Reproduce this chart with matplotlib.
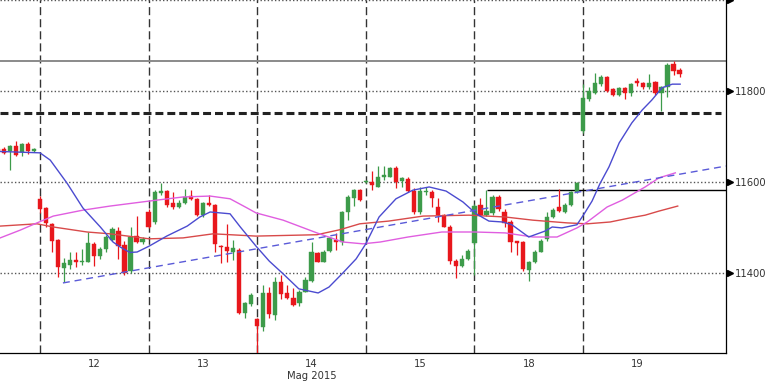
import matplotlib
matplotlib.use('Agg')
import matplotlib.pyplot as plt
import matplotlib.transforms as mtransforms

# hourly candles, index 0 = first bar of 12 May
idx = list(range(-7, 107))
opens = [11672, 11672, 11667, 11680, 11665, 11683, 11667,
         11562, 11542, 11508, 11472, 11410, 11418, 11428, 11424, 11425, 11464, 11438, 11452, 11473, 11493, 11461, 11404, 11482, 11467,
         11535, 11512, 11575, 11581, 11554, 11546, 11554, 11569, 11562, 11527, 11553, 11549, 11460, 11457, 11447, 11450, 11311, 11332,
         11299, 11282, 11355, 11308, 11381, 11355, 11346, 11333, 11359, 11382, 11443, 11425, 11448, 11472, 11467, 11533, 11564, 11582,
         11600, 11601, 11590, 11612, 11612, 11630, 11602, 11607, 11580, 11533, 11578, 11579, 11546, 11527, 11500, 11426, 11416, 11431,
         11465, 11549, 11527, 11531, 11567, 11535, 11513, 11470, 11467, 11407, 11424, 11447, 11475, 11523, 11545, 11535, 11549, 11578,
         11713, 11782, 11796, 11815, 11831, 11804, 11791, 11806, 11796, 11823, 11817, 11808, 11820, 11795, 11808, 11859, 11846]
highs = [11675, 11676, 11681, 11691, 11685, 11687, 11674,
         11569, 11545, 11510, 11474, 11433, 11446, 11447, 11452, 11491, 11467, 11458, 11484, 11500, 11500, 11470, 11500, 11526, 11478,
         11540, 11582, 11597, 11583, 11579, 11560, 11584, 11582, 11565, 11557, 11571, 11552, 11462, 11508, 11472, 11455, 11336, 11355,
         11300, 11374, 11368, 11392, 11396, 11374, 11366, 11362, 11390, 11469, 11447, 11451, 11480, 11488, 11536, 11572, 11585, 11585,
         11605, 11623, 11634, 11634, 11633, 11635, 11612, 11612, 11586, 11590, 11590, 11582, 11564, 11530, 11505, 11430, 11440, 11452,
         11552, 11565, 11582, 11572, 11571, 11540, 11516, 11471, 11470, 11427, 11450, 11474, 11535, 11542, 11584, 11553, 11580, 11600,
         11815, 11809, 11839, 11835, 11833, 11806, 11808, 11808, 11818, 11828, 11820, 11837, 11822, 11810, 11862, 11866, 11850]
lows = [11664, 11662, 11626, 11657, 11656, 11662, 11665,
        11532, 11502, 11445, 11392, 11381, 11409, 11413, 11418, 11423, 11416, 11430, 11445, 11470, 11430, 11395, 11400, 11465, 11464,
        11498, 11508, 11572, 11545, 11541, 11543, 11552, 11560, 11525, 11524, 11548, 11445, 11421, 11424, 11429, 11310, 11300, 11328,
        11225, 11272, 11300, 11297, 11343, 11343, 11327, 11327, 11357, 11380, 11423, 11423, 11446, 11450, 11461, 11516, 11547, 11558,
        11598, 11582, 11588, 11604, 11610, 11587, 11590, 11578, 11530, 11530, 11572, 11546, 11512, 11500, 11420, 11388, 11412, 11428,
        11396, 11525, 11525, 11528, 11537, 11500, 11445, 11440, 11405, 11382, 11422, 11445, 11470, 11520, 11533, 11532, 11547, 11575,
        11707, 11778, 11794, 11812, 11798, 11789, 11788, 11782, 11790, 11812, 11805, 11805, 11792, 11755, 11787, 11835, 11830]
closes = [11667, 11664, 11680, 11659, 11683, 11667, 11672,
          11541, 11510, 11471, 11414, 11421, 11428, 11425, 11427, 11465, 11438, 11453, 11478, 11497, 11460, 11399, 11480, 11467, 11475,
          11500, 11577, 11581, 11549, 11544, 11554, 11568, 11562, 11527, 11553, 11549, 11464, 11457, 11449, 11454, 11311, 11333, 11352,
          11284, 11355, 11309, 11381, 11353, 11346, 11330, 11359, 11385, 11445, 11425, 11447, 11476, 11467, 11533, 11568, 11582, 11560,
          11602, 11593, 11612, 11615, 11630, 11601, 11609, 11580, 11533, 11580, 11581, 11564, 11527, 11502, 11426, 11416, 11431, 11448,
          11548, 11527, 11537, 11566, 11540, 11509, 11467, 11465, 11409, 11424, 11446, 11471, 11523, 11538, 11536, 11549, 11578, 11597,
          11784, 11801, 11818, 11831, 11801, 11791, 11806, 11796, 11815, 11817, 11808, 11818, 11795, 11808, 11857, 11845, 11837]

day_starts = [0, 18, 36, 54, 72, 90]
day_ticks = [9, 27, 45, 63, 81, 99]
day_labels = ['12', '13', '14\nMag 2015', '15', '18', '19']
price_ticks = [11400, 11600, 11800]
grid_levels = [11400, 11600, 11800, 12000]

# moving averages
fast_x = [-6.6, 0, 1.7, 4.5, 7.1, 10, 12.1, 13.3, 14.9, 16.1, 18.1, 21, 24.4, 26.5, 28.2, 31.5, 33.2, 35.8, 38, 40.3,
          42.9, 46.1, 47.9, 50.2, 52.4, 54, 56.2, 59, 61.8, 64.5, 67.3, 70.1, 72.3, 74.4, 76.7, 78.2, 81, 83.7, 84.9,
          86.5, 89, 90.2, 91.5, 92.8, 94.3, 96, 98.1, 99.8, 101.4, 103.1, 104.8, 106.1]
fast_y = [11667, 11664, 11648, 11597, 11543, 11501, 11468, 11457, 11445, 11446, 11459, 11481, 11503, 11523, 11534, 11530,
          11501, 11459, 11426, 11398, 11365, 11356, 11369, 11400, 11431, 11464, 11523, 11563, 11582, 11589, 11580, 11556,
          11530, 11514, 11512, 11506, 11479, 11492, 11501, 11499, 11506, 11530, 11558, 11596, 11633, 11686, 11730, 11758,
          11780, 11807, 11815, 11815]
mid_x = [-6.6, -3.3, -0.5, 2.2, 7.1, 11.6, 18.1, 23.7, 28.2, 31.5, 34.3, 35.8, 40.3, 45.9, 50.2, 53.5, 56.4, 61, 66.6,
         72.1, 77.1, 81.7, 85.7, 89, 90.7, 94, 96.5, 100.3, 102.6, 105.3]
mid_y = [11477, 11494, 11510, 11525, 11538, 11547, 11558, 11567, 11569, 11563, 11543, 11532, 11516, 11488, 11468, 11464,
         11468, 11479, 11490, 11490, 11488, 11479, 11479, 11499, 11512, 11545, 11560, 11589, 11609, 11620]
slow_x = [-6.6, -0.5, 2.2, 7.8, 11.6, 18.1, 23.7, 28.7, 35.8, 45.9, 49.7, 53, 57.8, 63.5, 71.1, 77.1, 81.7, 87.4, 90.7,
          94.5, 97.8, 100.3, 102.6, 105.7]
slow_y = [11503, 11508, 11501, 11490, 11486, 11475, 11477, 11486, 11481, 11484, 11495, 11508, 11514, 11525, 11527, 11523,
          11516, 11510, 11508, 11512, 11521, 11527, 11536, 11547]

trend_x = [3.8, 113.7]
trend_y = [11378, 11635]
resist = 11866
dash_level = 11752
break_level = 11582
break_from = 74.1

green = '#3d9b4a'
red = '#e8171c'

fig = plt.figure(figsize=(7.68, 3.84), dpi=100)
ax = fig.add_axes([0, 31 / 384, 726 / 768, 353 / 384])
ax.set_xlim(-6.63, 113.7)
ax.set_ylim(11224, 12000)

for lv in grid_levels:
    ax.axhline(lv, color='#555555', lw=1.0, ls=(0, (1, 1.6)), zorder=1)
for d in day_starts:
    ax.axvline(d, color='#333333', lw=1.0, ls=(0, (5.8, 2.9)), zorder=1)

ax.axhline(resist, color='#8a8a8a', lw=1.4, zorder=1)
ax.hlines(dash_level, -6.63, 112.8, color='#222222', lw=2.2, linestyles=[(0, (2.6, 1.3))], zorder=1)
ax.hlines(break_level, break_from, 113.7, color='black', lw=1.0, zorder=1)

# candles
for i, o, h, l, c in zip(idx, opens, highs, lows, closes):
    col = green if c >= o else red
    ax.vlines(i, l, h, color=col, lw=0.9, zorder=3)
    body = max(abs(c - o), 2.5)
    ax.bar(i, body, bottom=min(o, c), width=0.7, color=col, edgecolor=col, lw=0.3, zorder=4)

ax.plot(slow_x, slow_y, color='#d84a4a', lw=1.0, zorder=5)
ax.plot(mid_x, mid_y, color='#e05ee0', lw=1.0, zorder=5)
ax.plot(fast_x, fast_y, color='#4b4bd0', lw=1.0, zorder=6)
ax.plot(trend_x, trend_y, color='#5a5ad8', lw=1.0, ls=(0, (5, 3.5)), zorder=6)

for s in ['left', 'top']:
    ax.spines[s].set_visible(False)
ax.spines['right'].set_linewidth(0.9)
ax.spines['bottom'].set_linewidth(0.9)

ax.yaxis.tick_right()
ax.set_yticks(price_ticks)
ax.set_yticklabels([str(p) for p in price_ticks])
ax.tick_params(axis='y', length=0, pad=6.3, labelsize=7.2, labelcolor='#333333')
ax.set_xticks(day_ticks)
ax.set_xticklabels(day_labels, linespacing=1.25)
ax.tick_params(axis='x', length=0, pad=4, labelsize=7.2, labelcolor='#333333')

# arrow ticks on the price axis
trans = mtransforms.blended_transform_factory(ax.transAxes, ax.transData)
ax.plot([1.006] * len(grid_levels), grid_levels, transform=trans, marker='>', ms=4.5,
        color='black', ls='none', clip_on=False)

fig.savefig('out.png', dpi=100)
